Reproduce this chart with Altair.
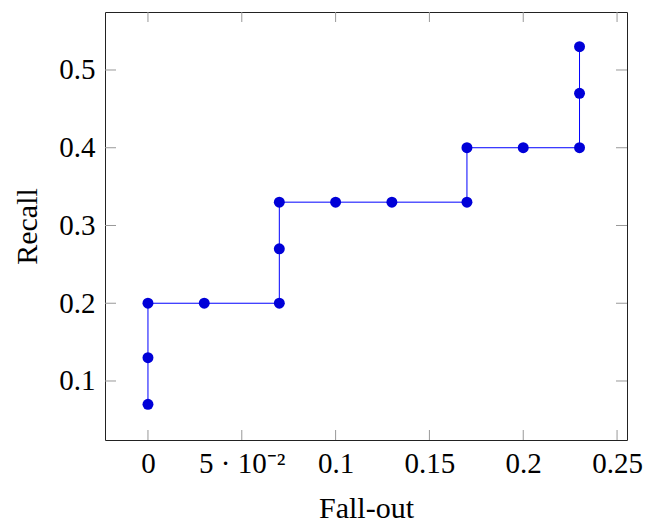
import json
import altair as alt
import pandas as pd

fallout = [0, 0, 0, 0.03, 0.07, 0.07, 0.07, 0.10, 0.13, 0.17, 0.17, 0.20, 0.23, 0.23, 0.23]
recall = [0.07, 0.13, 0.20, 0.20, 0.20, 0.27, 0.33, 0.33, 0.33, 0.33, 0.40, 0.40, 0.40, 0.47, 0.53]
x_ticks = [0, 0.05, 0.1, 0.15, 0.2, 0.25]
x_labels = ["0", "5 \u00b7 10\u207b\u00b2", "0.1", "0.15", "0.2", "0.25"]
y_ticks = [0.1, 0.2, 0.3, 0.4, 0.5]
y_labels = ["0.1", "0.2", "0.3", "0.4", "0.5"]

W, H = 522, 428
FONT = "Liberation Serif"
TICK_COLOR = "#999999"

df = pd.DataFrame({"order": list(range(len(fallout))), "fallout": fallout, "recall": recall})
xt = pd.DataFrame({"fallout": x_ticks})
yt = pd.DataFrame({"recall": y_ticks})

xscale = alt.Scale(domain=[-0.0229, 0.2553], nice=False, zero=False)
yscale = alt.Scale(domain=[0.0241, 0.5746], nice=False, zero=False)

x_expr = "%s[indexof(%s, datum.value)]" % (json.dumps(x_labels, ensure_ascii=False), json.dumps(x_ticks))
y_expr = "%s[indexof(%s, datum.value)]" % (json.dumps(y_labels), json.dumps(y_ticks))

xaxis = alt.Axis(values=x_ticks, labelExpr=x_expr, ticks=False, domain=False, grid=False,
                 labelFont=FONT, labelFontSize=29, labelColor="black", labelPadding=9,
                 title="Fall-out", titleFont=FONT, titleFontSize=30, titleFontWeight="normal",
                 titleColor="black", titlePadding=15, labelFlush=False)
yaxis = alt.Axis(values=y_ticks, labelExpr=y_expr, ticks=False, domain=False, grid=False,
                 labelFont=FONT, labelFontSize=29, labelColor="black", labelPadding=10,
                 title="Recall", titleFont=FONT, titleFontSize=30, titleFontWeight="normal",
                 titleColor="black", titlePadding=16, labelFlush=False)

X = alt.X("fallout:Q", scale=xscale, axis=xaxis, title="Fall-out")
Y = alt.Y("recall:Q", scale=yscale, axis=yaxis, title="Recall")

line = alt.Chart(df).mark_line(color="#0000ff", strokeWidth=1).encode(
    x=X, y=Y, order="order:Q",
)
points = alt.Chart(df).mark_circle(color="#0000d8", opacity=1, size=120).encode(x=X, y=Y)

tb = alt.Chart(xt).mark_rule(color=TICK_COLOR, strokeWidth=1).encode(
    x=X, y=alt.value(H), y2=alt.value(H - 10))
tt = alt.Chart(xt).mark_rule(color=TICK_COLOR, strokeWidth=1).encode(
    x=X, y=alt.value(0), y2=alt.value(10))
tl = alt.Chart(yt).mark_rule(color=TICK_COLOR, strokeWidth=1).encode(
    y=Y, x=alt.value(0), x2=alt.value(11))
tr = alt.Chart(yt).mark_rule(color=TICK_COLOR, strokeWidth=1).encode(
    y=Y, x=alt.value(W), x2=alt.value(W - 11))

chart = alt.layer(line, tb, tt, tl, tr, points).properties(
    width=W, height=H,
    autosize=alt.AutoSizeParams(type="none"),
    padding={"left": 97, "top": 4, "right": 20, "bottom": 82},
    background="white",
).configure_view(stroke="#222222", strokeWidth=1)

chart.save("out.html", embed_options={"renderer": "svg", "actions": False})
